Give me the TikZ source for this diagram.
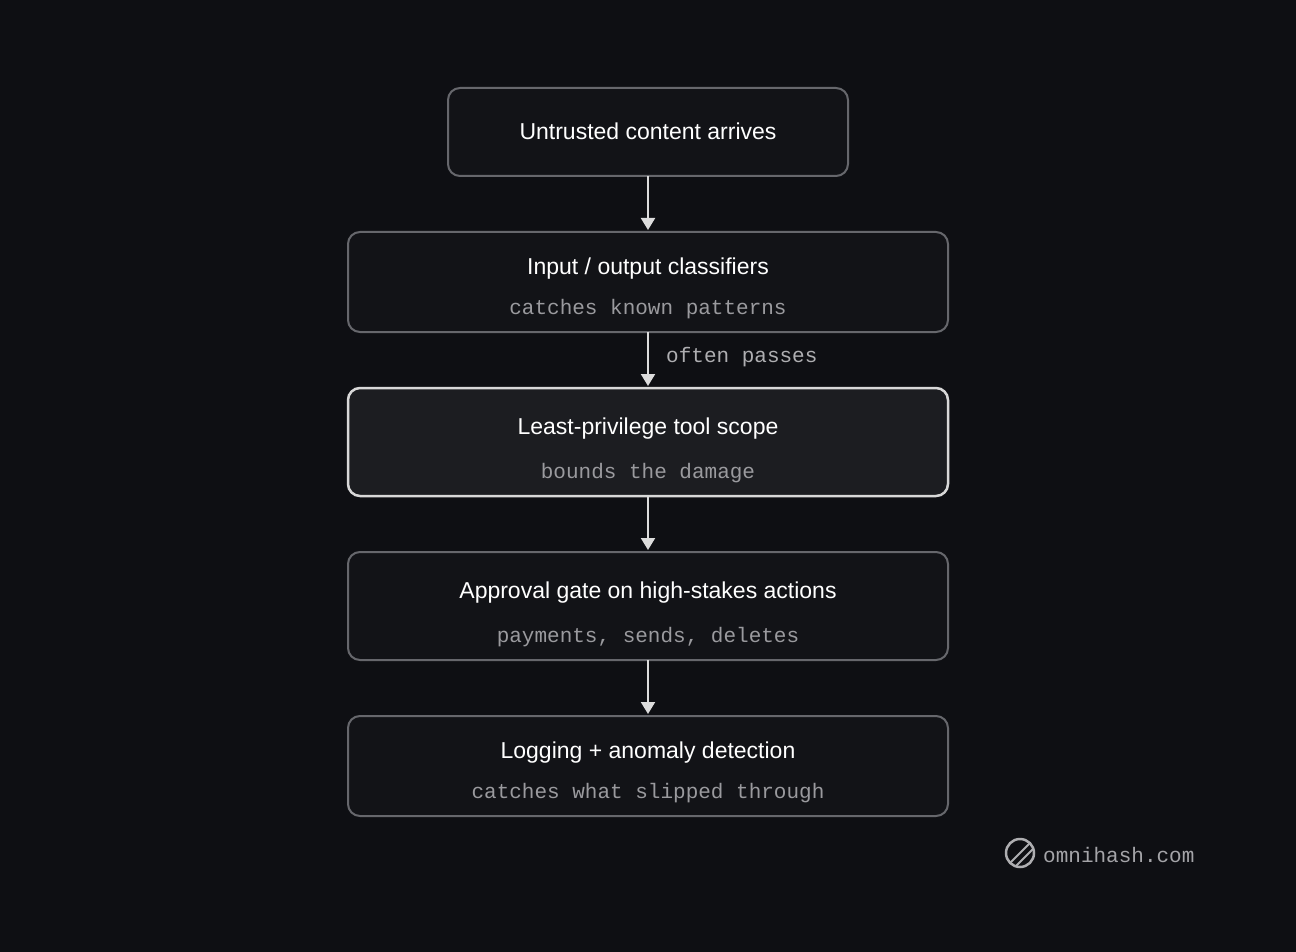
\documentclass[tikz,border=0pt]{standalone}
\usepackage{fontspec}
\setmainfont{Liberation Sans}
\newfontfamily\monof{Liberation Mono}
\usetikzlibrary{arrows.meta}
\definecolor{bg}{HTML}{0E0F13}
\definecolor{boxfill}{HTML}{121317}
\definecolor{hifill}{HTML}{1C1D21}
\definecolor{edge}{HTML}{66676C}
\definecolor{hiedge}{HTML}{D8D8D8}
\definecolor{subc}{HTML}{9A9A9E}
\begin{document}
\begin{tikzpicture}[x=1pt,y=-1pt,
 box/.style={draw=edge,line width=2pt,fill=boxfill,rounded corners=12pt},
 hibox/.style={draw=hiedge,line width=2.5pt,fill=hifill,rounded corners=12pt},
 ttl/.style={text=white,font=\fontsize{23}{26}\selectfont,inner sep=0pt},
 sub/.style={text=subc,font=\monof\fontsize{21}{24}\selectfont,inner sep=0pt},
 arr/.style={draw=hiedge!90,line width=2pt,-{Triangle[width=14pt,length=12pt]},shorten >=2pt}]
\fill[bg] (0,0) rectangle (1296,952);
\draw[box] (448,88) rectangle (848,176);
\node[ttl] (t1) at (648,131) {Untrusted content arrives};
\coordinate (b1) at (648,176);
\draw[box] (348,232) rectangle (948,332);
\node[ttl] (t2) at (648,269) {Input / output classifiers};
\node[sub] (s2) at (648,309) {catches known patterns};
\coordinate (a2) at (648,232); \coordinate (b2) at (648,332);
\draw[hibox] (348,388) rectangle (948,496);
\node[ttl] (t3) at (648,429) {Least-privilege tool scope};
\node[sub] (s3) at (648,473) {bounds the damage};
\coordinate (a3) at (648,388); \coordinate (b3) at (648,496);
\draw[box] (348,552) rectangle (948,660);
\node[ttl] (t4) at (648,593) {Approval gate on high-stakes actions};
\node[sub] (s4) at (648,637) {payments, sends, deletes};
\coordinate (a4) at (648,552); \coordinate (b4) at (648,660);
\draw[box] (348,716) rectangle (948,816);
\node[ttl] (t5) at (648,753) {Logging + anomaly detection};
\node[sub] (s5) at (648,793) {catches what slipped through};
\coordinate (a5) at (648,716);
\draw[arr] (b1) -- (a2);
\draw[arr] (b2) -- (a3);
\draw[arr] (b3) -- (a4);
\draw[arr] (b4) -- (a5);
\node[sub,anchor=west,text=subc!80!white] (lbl) at (666,357) {often passes};
\draw[subc!80,line width=2.5pt] (1020,853) circle (14);
\draw[subc!80,line width=2pt] (1010,863) -- (1030,843);
\draw[subc!80,line width=2pt] (1016,866) -- (1033,849);
\node[sub,anchor=west,text=subc!90] (logo) at (1043,855) {omnihash.com};
\end{tikzpicture}
\end{document}
